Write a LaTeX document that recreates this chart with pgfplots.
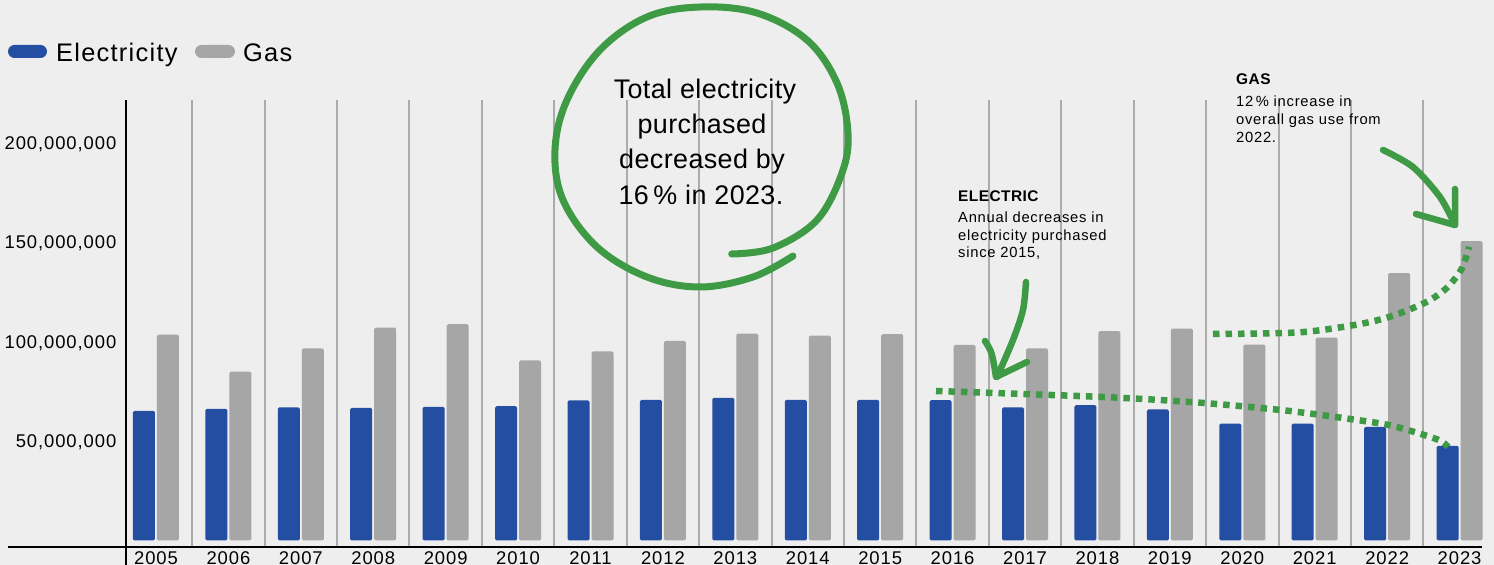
\documentclass[border=0pt]{standalone}
\usepackage{pgfplots}
\usepackage{pgfplotstable}
\pgfplotsset{compat=1.18}
\usepackage{fontspec}
\setmainfont{Liberation Sans}[LetterSpace=5]
\newfontfamily\annfont{Liberation Sans}[LetterSpace=1.5]
\newfontfamily\headfont{Liberation Sans Bold}[LetterSpace=3]
\definecolor{bg}{HTML}{EEEEEE}
\definecolor{elec}{HTML}{234EA1}
\definecolor{gasc}{HTML}{A6A6A6}
\definecolor{sepc}{HTML}{ABABAB}
\definecolor{grn}{HTML}{3F9A45}

\pgfplotstableread{
x  e         g
0  65200000  103500000
1  66200000  84900000
2  66900000  96500000
3  66700000  107000000
4  67200000  108700000
5  67500000  90500000
6  70400000  95000000
7  70700000  100300000
8  71700000  104000000
9  70700000  103000000
10 70700000  103700000
11 70500000  98300000
12 66900000  96500000
13 68000000  105200000
14 65900000  106500000
15 58800000  98500000
16 58800000  102000000
17 57100000  134400000
18 47600000  150500000
}\datatable

\begin{document}
\begin{tikzpicture}
\fill[bg] (0,0) rectangle (1494bp,565bp);
\begin{axis}[
  at={(126bp,18bp)}, anchor=south west,
  width=1356bp, height=447bp, scale only axis,
  xmin=-0.414, xmax=18.31, ymin=-3.27e6, ymax=221.4e6,
  scaled y ticks=false,
  axis line style={draw=none},
  major tick length=0pt,
  tick style={draw=none},
  ybar=2bp, bar width=22bp,
  xtick={0,...,18},
  xticklabels={2005,2006,2007,2008,2009,2010,2011,2012,2013,2014,2015,2016,2017,2018,2019,2020,2021,2022,2023},
  ytick={50e6,100e6,150e6,200e6},
  yticklabels={{50,000,000},{100,000,000},{150,000,000},{200,000,000}},
  tick label style={font=\fontsize{18.5}{20}\selectfont},
  yticklabel style={anchor=east, inner sep=0pt, xshift=-9.5bp, yshift=-1.5bp},
  xticklabel style={anchor=north, inner sep=0pt, yshift=-4bp},
  extra x ticks={0.5,1.5,...,17.5},
  extra x tick labels={},
  extra x tick style={grid=major, major grid style={sepc, line width=2bp}},
  clip=false,
]
\addplot[fill=elec, draw=none, rounded corners=1.5bp] table[x=x,y=e]{\datatable};
\addplot[fill=gasc, draw=none, rounded corners=1.5bp] table[x=x,y=g]{\datatable};
\end{axis}
\draw[black, line width=2bp] (8bp,18bp) -- (1482bp,18bp);
\draw[black, line width=2bp] (126bp,0bp) -- (126bp,465bp);

\begin{scope}[x=1bp,y=-1bp,yshift=565bp]
% legend
\fill[elec, rounded corners=6.5bp] (8,45) rectangle (47,58);
\node[anchor=base west, inner sep=0pt, font=\fontsize{25.5}{30}\selectfont] at (56,62) {Electricity};
\fill[gasc, rounded corners=6.5bp] (195,45) rectangle (235,58);
\node[anchor=base west, inner sep=0pt, font=\fontsize{25.5}{30}\selectfont] at (243,62) {Gas};
% big annotation
\begin{scope}[every node/.style={anchor=base, inner sep=0pt, font=\annfont\fontsize{27}{32}\selectfont}]
\node at (705,98.3) {Total electricity};
\node at (702,133.5) {purchased};
\node at (702,169) {decreased by};
\node at (701,205) {16\,\% in 2023.};
\end{scope}
% circle
\draw[grn, line width=7bp, line cap=round, line join=round]
  plot[smooth, tension=0.6] coordinates {(731.7,254) (773,248) (817,220) (842,173) (848,133) (837,83) (807,40) (757,13) (700,7) (647,17) (600,50) (567,100) (555,150) (563,200) (597,247) (647,277) (700,287) (753,277) (793,256)};
% electric note
\node[anchor=base west, inner sep=0pt, font=\headfont\fontsize{15.5}{18}\selectfont] at (958,201.7) {ELECTRIC};
\begin{scope}[every node/.style={anchor=base west, inner sep=0pt, font=\fontsize{14.8}{17}\selectfont}]
\node at (958,223) {Annual decreases in};
\node at (958,240.5) {electricity purchased};
\node at (958,257.5) {since 2015,};
\node[font=\headfont\fontsize{15.5}{18}\selectfont] at (1236,85) {GAS};
\node at (1236,106.7) {12\,\% increase in};
\node at (1236,124.5) {overall gas use from};
\node at (1236,142.3) {2022.};
\end{scope}
% dotted trend lines
\draw[grn, line width=6.5bp, dash pattern=on 6.5bp off 6bp]
  plot[smooth] coordinates {(936,391) (1103,397) (1200,402.7) (1287,410.7) (1357,420) (1393,426) (1437,439.3) (1448,447)};
\draw[grn, line width=6.5bp, dash pattern=on 6.5bp off 6bp]
  plot[smooth] coordinates {(1213,334) (1300,332.3) (1360,324) (1393,315.7) (1427,301.7) (1447,287.7) (1462,268.3) (1469,246.7)};
% arrows
\draw[grn, line width=6.5bp, line cap=round, line join=round]
  plot[smooth] coordinates {(1026,282) (1023,310) (1013,340) (997,377)};
\draw[grn, line width=6.5bp, line cap=round, line join=round]
  (985,341) .. controls (992,352) .. (996,377) -- (1027,362);
\draw[grn, line width=6.5bp, line cap=round, line join=round]
  plot[smooth] coordinates {(1383,150) (1413,167) (1440,197) (1455,225)};
\draw[grn, line width=6.5bp, line cap=round, line join=round]
  (1416,214) -- (1455,225) -- (1455,189);
\end{scope}
\pgfresetboundingbox
\path[use as bounding box] (0,0) rectangle (1494bp,565bp);
\end{tikzpicture}
\end{document}
